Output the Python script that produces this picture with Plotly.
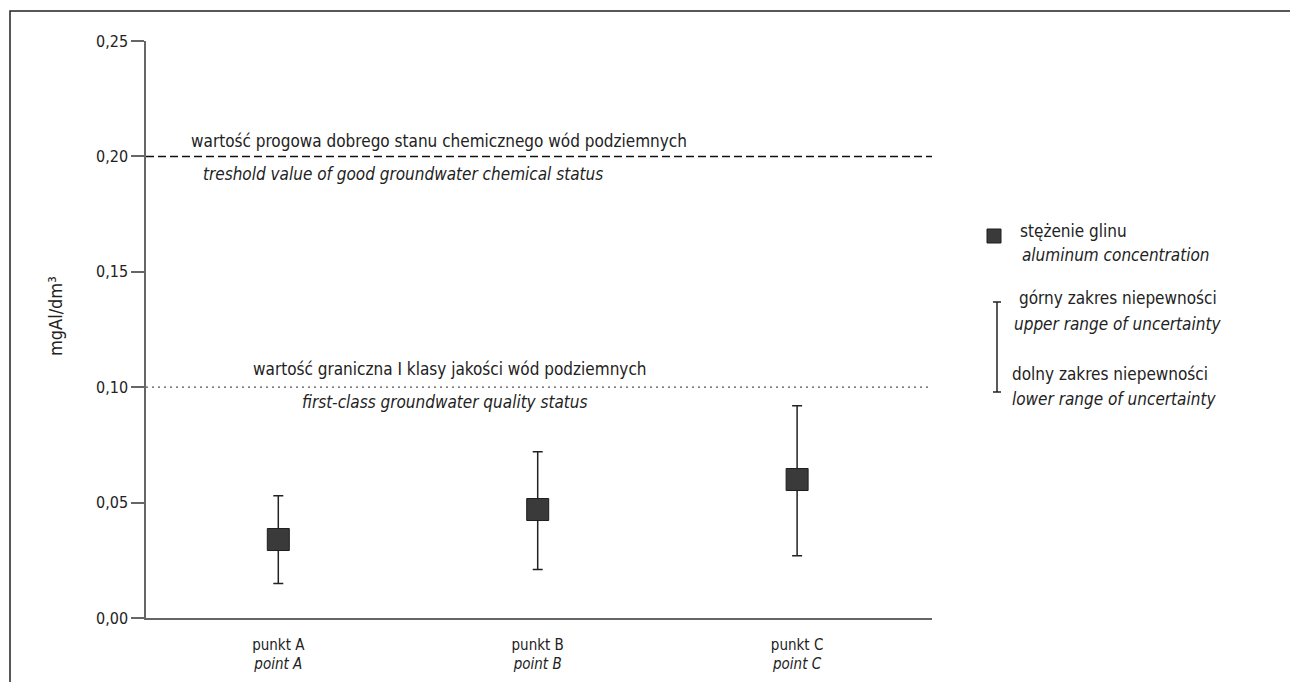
import plotly.graph_objects as go

# ---- data ----
categories = ["punkt A<br><i>point A</i>", "punkt B<br><i>point B</i>", "punkt C<br><i>point C</i>"]
concentration = [0.034, 0.047, 0.060]
upper_bound = [0.053, 0.072, 0.092]
lower_bound = [0.015, 0.021, 0.027]
threshold_good_status = 0.20
limit_first_class = 0.10
y_ticks = [0.00, 0.05, 0.10, 0.15, 0.20, 0.25]

FONT = "Liberation Sans Narrow, DejaVu Sans Condensed, Roboto Condensed, Arial Narrow, sans-serif"
W, H = 1290, 682
L, R, T, B = 146, 358, 41, 64
PW, PH = W - L - R, H - T - B


def px(x):
    return (x - L) / PW


def py(y):
    return (H - B - y) / PH


err_plus = [u - c for u, c in zip(upper_bound, concentration)]
err_minus = [c - l for c, l in zip(concentration, lower_bound)]

fig = go.Figure()
fig.add_trace(go.Scatter(
    x=list(range(len(categories))), y=concentration, mode="markers",
    marker=dict(symbol="square", size=22, color="#3a3a3a", line=dict(color="#1e1e1e", width=1)),
    error_y=dict(type="data", symmetric=False, array=err_plus, arrayminus=err_minus,
                 color="#222222", thickness=1.5, width=5),
    showlegend=False, hoverinfo="skip",
))

shapes = []
# frame
shapes.append(dict(type="rect", xref="paper", yref="paper", x0=px(10), x1=px(1400), y0=py(11), y1=py(800),
                   line=dict(color="#222222", width=1.5), fillcolor="rgba(0,0,0,0)", layer="below"))
# reference lines
shapes.append(dict(type="line", xref="paper", yref="y", x0=0, x1=1, y0=threshold_good_status, y1=threshold_good_status,
                   line=dict(color="#111111", width=1.5, dash="8px,4px")))
shapes.append(dict(type="line", xref="paper", yref="y", x0=0, x1=1, y0=limit_first_class, y1=limit_first_class,
                   line=dict(color="#555555", width=1.2, dash="2px,4px")))
# legend marker
shapes.append(dict(type="rect", xref="paper", yref="paper", x0=px(987), x1=px(1001), y0=py(243), y1=py(229),
                   fillcolor="#3a3a3a", line=dict(color="#1e1e1e", width=1)))
# legend error bar
shapes.append(dict(type="line", xref="paper", yref="paper", x0=px(997), x1=px(997), y0=py(302), y1=py(392),
                   line=dict(color="#222222", width=1.5)))
for yy in (302, 392):
    shapes.append(dict(type="line", xref="paper", yref="paper", x0=px(993), x1=px(1001), y0=py(yy), y1=py(yy),
                       line=dict(color="#222222", width=1.5)))

annotations = []


def note(text, x, y, size=17, italic=False, xanchor="center", angle=0):
    annotations.append(dict(text=f"<i>{text}</i>" if italic else text, xref="paper", yref="paper",
                            x=px(x), y=py(y), xanchor=xanchor, yanchor="middle", showarrow=False,
                            textangle=angle, font=dict(family=FONT, size=size, color="#222222")))


note("wartość progowa dobrego stanu chemicznego wód podziemnych", 439, 141)
note("treshold value of good groundwater chemical status", 403, 174, italic=True)
note("wartość graniczna I klasy jakości wód podziemnych", 450, 369)
note("first-class groundwater quality status", 445, 402, italic=True)
note("mgAl/dm³", 55, 316, size=18, angle=-90)

note("stężenie glinu", 1018, 231, xanchor="left")
note("aluminum concentration", 1020, 255, italic=True, xanchor="left")
note("górny zakres niepewności", 1017, 298, xanchor="left")
note("upper range of uncertainty", 1012, 324, italic=True, xanchor="left")
note("dolny zakres niepewności", 1010, 374, xanchor="left")
note("lower range of uncertainty", 1010, 399, italic=True, xanchor="left")

fig.update_layout(
    width=W, height=H, margin=dict(l=L, r=R, t=T, b=B, autoexpand=False),
    paper_bgcolor="white", plot_bgcolor="white", separators=", ",
    font=dict(family=FONT, size=16, color="#222222"),
    shapes=shapes, annotations=annotations, showlegend=False,
    xaxis=dict(range=[-0.51, 2.52], tickmode="array", tickvals=list(range(len(categories))),
               ticktext=categories, showgrid=False, zeroline=False, showline=True,
               linecolor="#666666", linewidth=1.5, ticks="", ticklabelstandoff=12,
               tickfont=dict(size=15, family=FONT)),
    yaxis=dict(range=[0, 0.25], tickmode="array", tickvals=y_ticks, tickformat=".2f",
               showgrid=False, zeroline=False, showline=True, linecolor="#666666", linewidth=1.5,
               ticks="outside", ticklen=13, tickcolor="#666666", tickwidth=1.5,
               tickfont=dict(size=16, family=FONT)),
)

fig.write_html("out.html", config={"displayModeBar": False},
               post_script="document.body.style.margin='0';document.body.style.overflow='hidden';")
